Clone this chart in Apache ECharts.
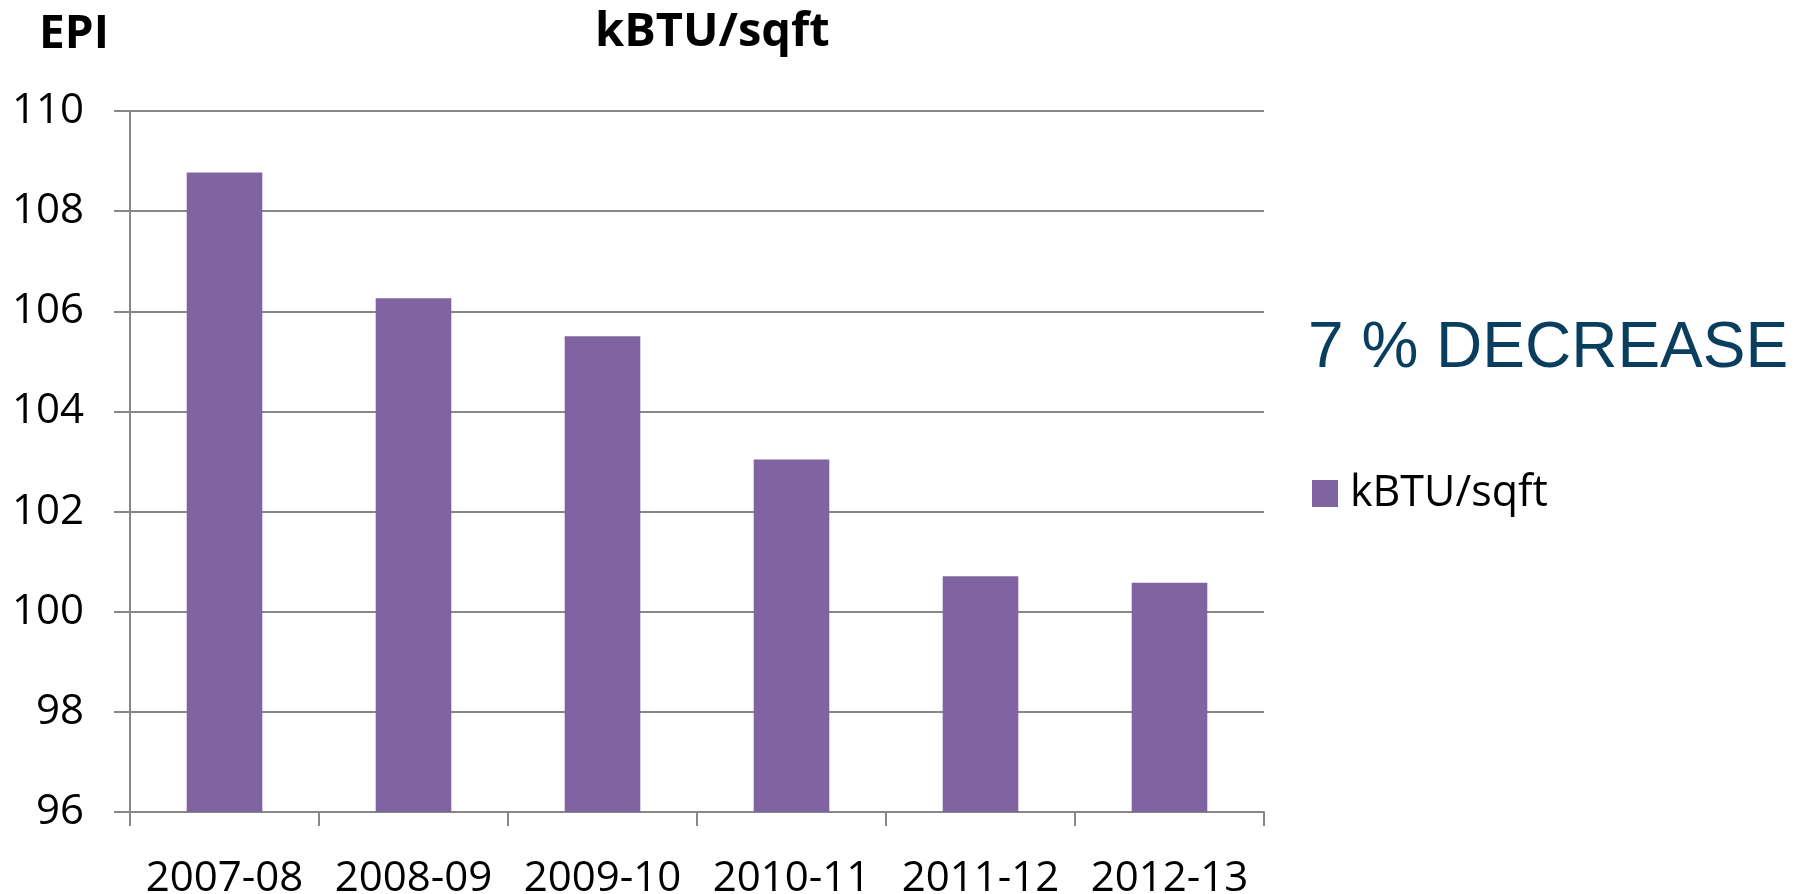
<!DOCTYPE html>
<html>
<head>
<meta charset="utf-8">
<script src="https://cdn.jsdelivr.net/npm/echarts@6/dist/echarts.min.js"></script>
<style>
html,body{margin:0;padding:0;background:#fff;}
#chart{width:1807px;height:894px;}
</style>
</head>
<body>
<div id="chart"></div>
<script>
var categories = ['2007-08', '2008-09', '2009-10', '2010-11', '2011-12', '2012-13'];
var kbtuValues = [108.77, 106.26, 105.50, 103.04, 100.71, 100.58];
var seriesName = 'kBTU/sqft';
var yMin = 96, yMax = 110, yInterval = 2;
var titleText = 'kBTU/sqft';
var yAxisTitle = 'EPI';
var noteText = '7 % DECREASE';

var FONT = '"Open Sans", "Noto Sans", sans-serif';
var chart = echarts.init(document.getElementById('chart'), null, {renderer: 'canvas'});
chart.setOption({
  backgroundColor: '#ffffff',
  animation: false,
  title: {
    text: titleText,
    left: 590,
    top: 4,
    textStyle: {fontFamily: FONT, fontWeight: 'bold', fontSize: 47, color: '#000'}
  },
  legend: {
    data: [seriesName],
    left: 1307,
    top: 467,
    icon: 'rect',
    itemWidth: 26,
    itemHeight: 27,
    textStyle: {fontFamily: FONT, fontSize: 43, color: '#000', padding: [0, 0, 0, 7]}
  },
  grid: {left: 130, right: 543, top: 111, bottom: 82, containLabel: false, outerBoundsMode: 'none'},
  xAxis: {
    type: 'category',
    data: categories,
    boundaryGap: true,
    axisLine: {show: true, lineStyle: {color: '#878787', width: 2}},
    axisTick: {show: true, length: 14, interval: 0, alignWithLabel: false, lineStyle: {color: '#878787', width: 2}},
    axisLabel: {fontFamily: FONT, fontSize: 42, color: '#000', margin: 46, interval: 0},
    splitLine: {show: false}
  },
  yAxis: {
    type: 'value',
    min: yMin,
    max: yMax,
    interval: yInterval,
    axisLine: {show: true, lineStyle: {color: '#878787', width: 2}},
    axisTick: {show: true, length: 16, lineStyle: {color: '#878787', width: 2}},
    axisLabel: {fontFamily: FONT, fontSize: 42, color: '#000', margin: 46},
    splitLine: {show: true, lineStyle: {color: '#878787', width: 2}}
  },
  series: [{
    name: seriesName,
    type: 'bar',
    data: kbtuValues,
    barCategoryGap: '60%',
    itemStyle: {color: '#8064A2'}
  }],
  graphic: [
    {
      type: 'text',
      left: 39,
      top: 12,
      style: {text: yAxisTitle, fontFamily: FONT, fontWeight: 'bold', fontSize: 46, fill: '#000'}
    },
    {
      type: 'text',
      left: 1308,
      top: 317,
      style: {text: noteText, fontFamily: '"Liberation Sans", Arial, sans-serif', fontSize: 64, fill: '#0A3E5E'}
    }
  ]
});
</script>
</body>
</html>
